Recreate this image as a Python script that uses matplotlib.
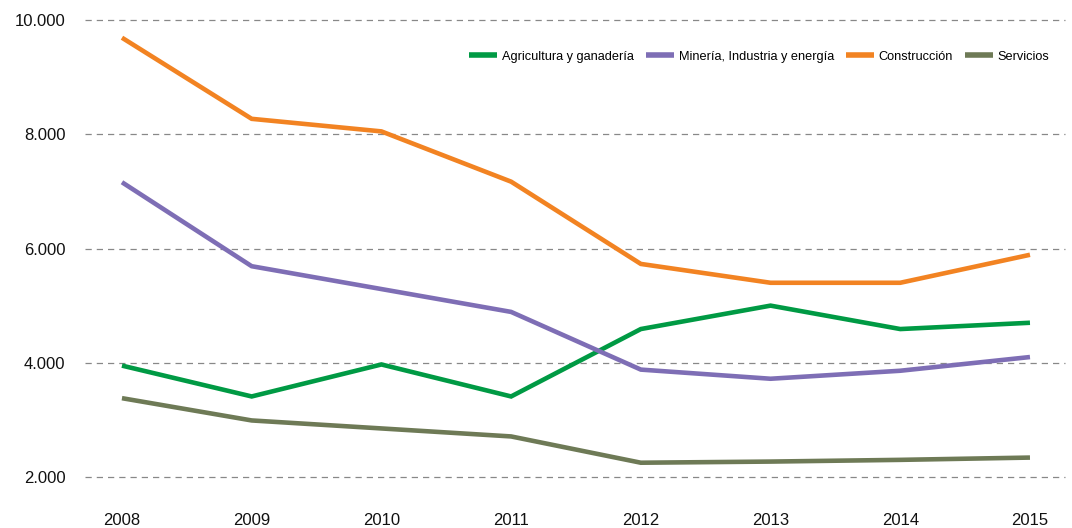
import matplotlib
matplotlib.use("Agg")
import matplotlib.pyplot as plt
from matplotlib.ticker import FuncFormatter

years = [2008, 2009, 2010, 2011, 2012, 2013, 2014, 2015]
agricultura = [3950, 3410, 3970, 3410, 4590, 5000, 4590, 4700]
mineria = [7160, 5690, 5290, 4890, 3880, 3720, 3860, 4100]
construccion = [9690, 8270, 8050, 7170, 5730, 5400, 5400, 5890]
servicios = [3380, 2990, 2850, 2710, 2250, 2270, 2300, 2340]

series_names = ["Agricultura y ganadería", "Minería, Industria y energía", "Construcción", "Servicios"]
colors = ["#009A44", "#7E6EB5", "#F28322", "#6E7A56"]

plt.rcParams['font.family'] = ['Liberation Sans', 'DejaVu Sans']

fig = plt.figure(figsize=(10.72, 5.28), dpi=100)
ax = fig.add_axes([85 / 1072, 1 - 477 / 528, (1065 - 85) / 1072, (477 - 20) / 528])

for vals, name, c in zip([agricultura, mineria, construccion, servicios], series_names, colors):
    ax.plot(years, vals, color=c, lw=3.3, label=name, solid_capstyle='butt', solid_joinstyle='miter')

ax.set_ylim(2000, 10000)
ax.set_xlim(2008 - 0.285, 2015 + 0.27)
ax.set_yticks([2000, 4000, 6000, 8000, 10000])
ax.yaxis.set_major_formatter(FuncFormatter(lambda v, p: f"{int(v):,}".replace(",", ".")))
ax.set_xticks(years)
ax.set_xticklabels([str(y) for y in years])
ax.tick_params(axis='both', length=0, labelsize=12, colors='#111111')
ax.tick_params(axis='x', pad=26)
ax.tick_params(axis='y', pad=14)

ax.grid(axis='y', color='#888888', linestyle=(0, (5, 4)), lw=0.9)
for gl in ax.get_ygridlines():
    gl.set_clip_on(False)
ax.set_axisbelow(True)
for s in ax.spines.values():
    s.set_visible(False)

leg = ax.legend(loc='upper right', bbox_to_anchor=(0.996, 0.958), ncol=4, frameon=False,
                fontsize=9.2, handlelength=2.2, handletextpad=0.4, columnspacing=0.9)
for h in leg.get_lines():
    h.set_linewidth(4)

fig.savefig("out.png", dpi=100)
